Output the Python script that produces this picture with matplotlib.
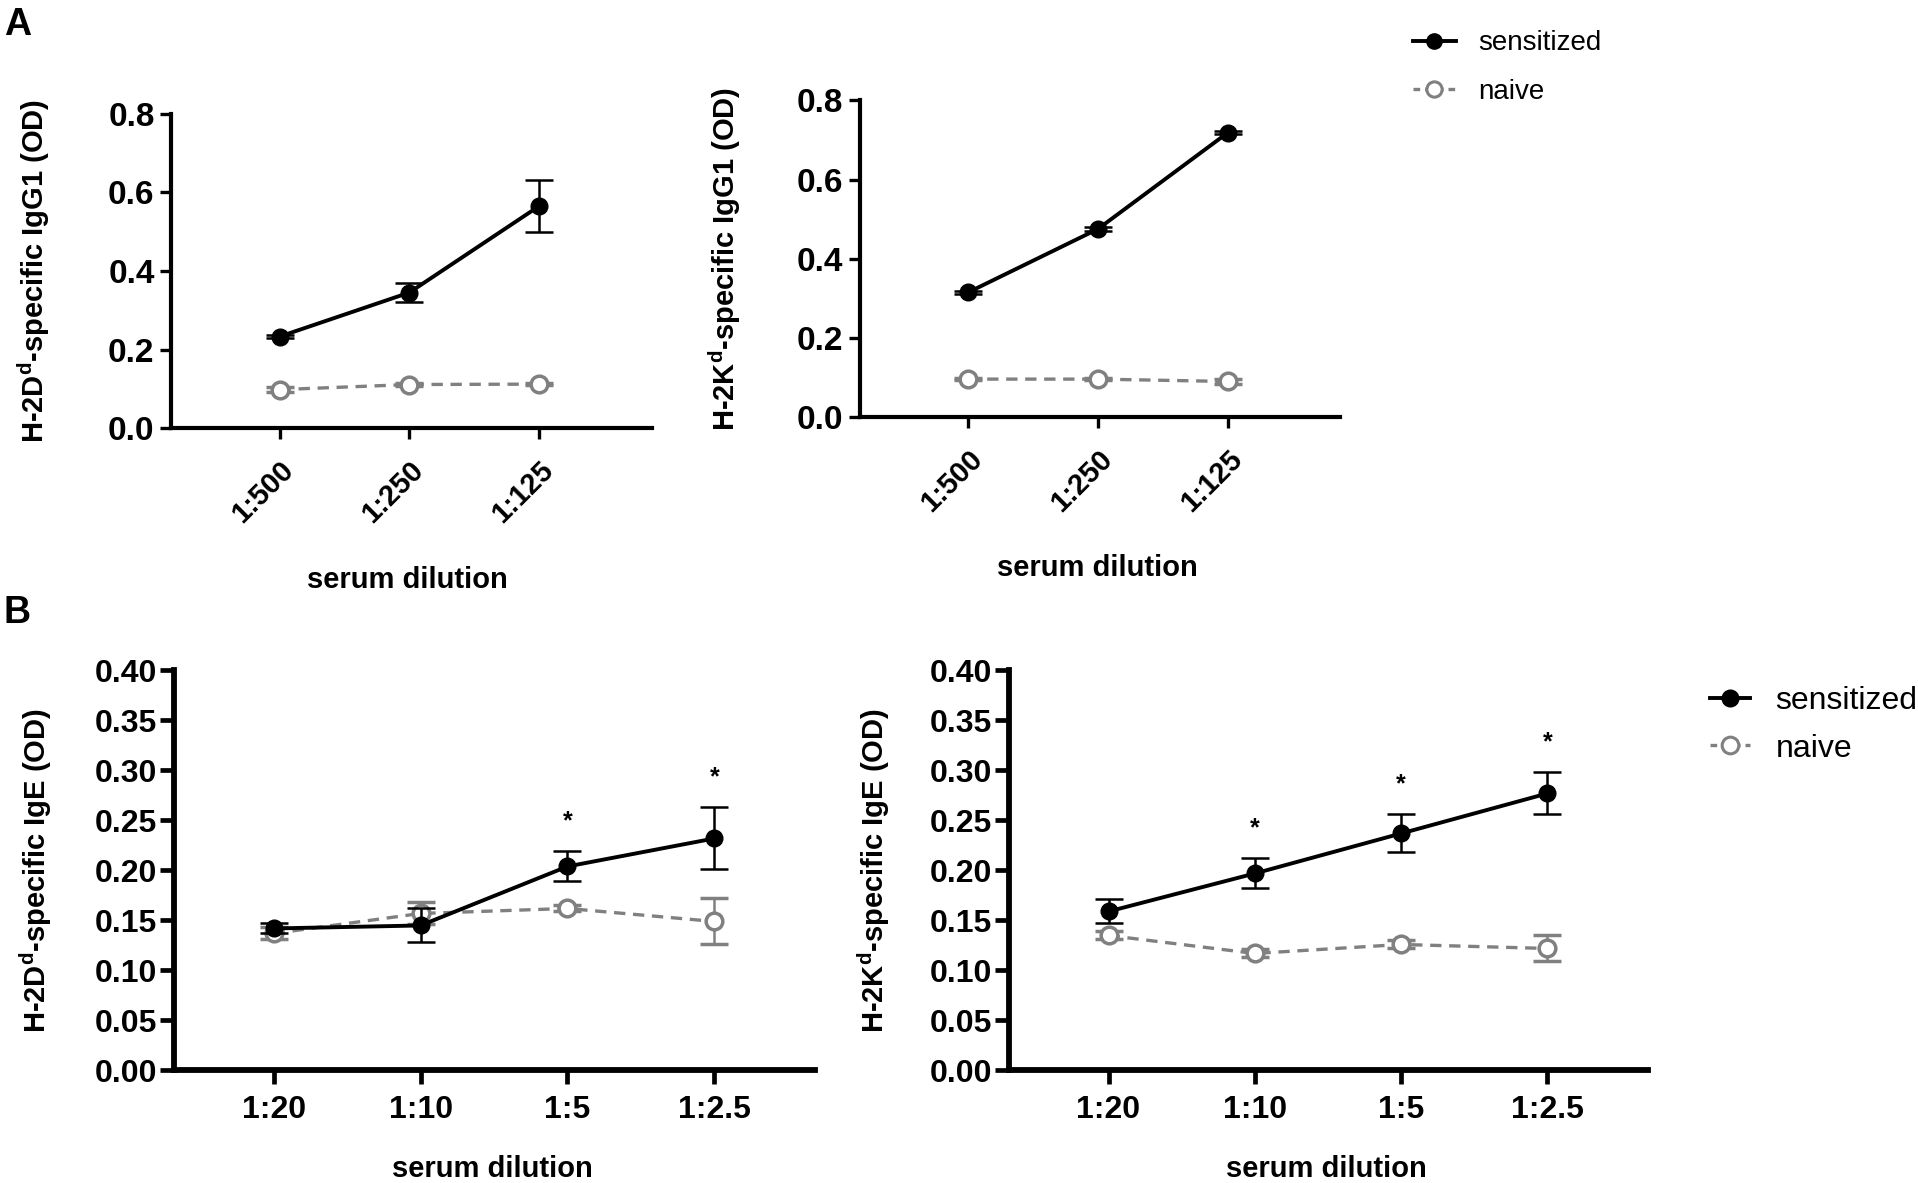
import numpy as np
import matplotlib.pyplot as plt
from matplotlib.lines import Line2D

plt.rcParams['font.family'] = ['Liberation Sans', 'DejaVu Sans']
plt.rcParams['mathtext.fontset'] = 'custom'
plt.rcParams['mathtext.bf'] = 'Liberation Sans:bold'
plt.rcParams['mathtext.rm'] = 'Liberation Sans:bold'

# panel A: IgG1
dil_A = ['1:500', '1:250', '1:125']
igg1_d_sens = [0.233, 0.345, 0.565]
igg1_d_sens_err = [0.004, 0.025, 0.067]
igg1_d_naive = [0.098, 0.111, 0.112]
igg1_d_naive_err = [0.006, 0.005, 0.003]
igg1_k_sens = [0.315, 0.475, 0.718]
igg1_k_sens_err = [0.004, 0.005, 0.004]
igg1_k_naive = [0.096, 0.096, 0.090]
igg1_k_naive_err = [0.003, 0.003, 0.006]

# panel B: IgE
dil_B = ['1:20', '1:10', '1:5', '1:2.5']
ige_d_sens = [0.142, 0.145, 0.204, 0.232]
ige_d_sens_err = [0.005, 0.017, 0.015, 0.031]
ige_d_naive = [0.137, 0.157, 0.162, 0.149]
ige_d_naive_err = [0.006, 0.011, 0.003, 0.023]
ige_d_sig = [False, False, True, True]
ige_k_sens = [0.159, 0.197, 0.237, 0.277]
ige_k_sens_err = [0.012, 0.015, 0.019, 0.021]
ige_k_naive = [0.135, 0.117, 0.126, 0.122]
ige_k_naive_err = [0.004, 0.004, 0.004, 0.013]
ige_k_sig = [False, True, True, True]

GREY = '#808080'


def draw_panel(ax, labels, sens, sens_err, naive, naive_err, ylabel, big):
    x = np.arange(len(labels))
    ms = 12
    cap = 10
    ax.errorbar(x, naive, yerr=naive_err, color=GREY, lw=2.4, dashes=(3.4, 2.3),
                marker='o', ms=ms, mfc='white', mec=GREY, mew=2.5,
                ecolor=GREY, elinewidth=1.8, capsize=cap, capthick=1.8, zorder=2)
    ax.errorbar(x, sens, yerr=sens_err, color='black', lw=2.8,
                marker='o', ms=ms, mfc='black', mec='black',
                ecolor='black', elinewidth=1.8, capsize=cap, capthick=1.8, zorder=3)
    for side in ['top', 'right']:
        ax.spines[side].set_visible(False)
    sw = 4.2 if big else 3.0
    for side in ['left', 'bottom']:
        ax.spines[side].set_linewidth(sw)
    ax.set_xticks(x)
    ax.set_ylabel(ylabel, fontsize=21, fontweight='bold')
    ax.set_xlabel('serum dilution', fontsize=21, fontweight='bold')
    return x


fig = plt.figure(figsize=(19.18, 11.83), dpi=100)

# ---- A ----
axA1 = fig.add_axes([0.0893, 0.6381, 0.2506, 0.2657])
axA2 = fig.add_axes([0.4483, 0.6474, 0.2506, 0.2678])
for ax, s, se, n, ne, lab in [
        (axA1, igg1_d_sens, igg1_d_sens_err, igg1_d_naive, igg1_d_naive_err,
         r'H-2D$^{\mathbf{d}}$-specific IgG1 (OD)'),
        (axA2, igg1_k_sens, igg1_k_sens_err, igg1_k_naive, igg1_k_naive_err,
         r'H-2K$^{\mathbf{d}}$-specific IgG1 (OD)')]:
    draw_panel(ax, dil_A, s, se, n, ne, lab, False)
    ax.set_xlim(-0.835, 2.87)
    ax.set_ylim(0, 0.8)
    ax.set_yticks([0.0, 0.2, 0.4, 0.6, 0.8])
    ax.set_yticklabels(['0.0', '0.2', '0.4', '0.6', '0.8'], fontsize=24,
                       fontweight='bold')
    ax.set_xticklabels(dil_A, fontsize=21, fontweight='bold', rotation=45,
                       ha='right', rotation_mode='anchor')
    ax.tick_params(axis='both', length=8, width=2.4, pad=4)
    ax.tick_params(axis='x', pad=12)
    ax.yaxis.set_label_coords(-0.249 if ax is axA1 else -0.244, 0.5)
axA1.xaxis.set_label_coords(0.491, -0.44)
axA2.xaxis.set_label_coords(0.494, -0.432)

# ---- B ----
axB1 = fig.add_axes([0.0906, 0.0951, 0.3345, 0.3382])
axB2 = fig.add_axes([0.5261, 0.0951, 0.3331, 0.3382])
for ax, s, se, n, ne, sig, lab in [
        (axB1, ige_d_sens, ige_d_sens_err, ige_d_naive, ige_d_naive_err, ige_d_sig,
         r'H-2D$^{\mathbf{d}}$-specific IgE (OD)'),
        (axB2, ige_k_sens, ige_k_sens_err, ige_k_naive, ige_k_naive_err, ige_k_sig,
         r'H-2K$^{\mathbf{d}}$-specific IgE (OD)')]:
    x = draw_panel(ax, dil_B, s, se, n, ne, lab, True)
    ax.set_xlim(-0.68, 3.687)
    ax.set_ylim(0, 0.4)
    yt = np.arange(0, 0.41, 0.05)
    ax.set_yticks(yt)
    ax.set_yticklabels(['%.2f' % v for v in yt], fontsize=23, fontweight='bold')
    ax.set_xticklabels(dil_B, fontsize=23, fontweight='bold')
    ax.tick_params(axis='both', length=10, width=3.4, pad=2)
    ax.tick_params(axis='x', pad=8)
    for xi, v, e, flag in zip(x, s, se, sig):
        if flag:
            ax.text(xi, v + e + 0.03, '*', ha='center', va='center',
                    fontsize=18, fontweight='bold')
    ax.xaxis.set_label_coords(0.497, -0.21)
axB1.yaxis.set_label_coords(-0.187, 0.5)
axB2.yaxis.set_label_coords(-0.184, 0.5)


def legend_handles(ms):
    return [Line2D([], [], color='black', lw=2.8, marker='o', ms=ms, mfc='black'),
            Line2D([], [], color=GREY, lw=2.4, dashes=(2, 1.5), marker='o', ms=ms,
                   mfc='white', mec=GREY, mew=2.2)]


fig.legend(legend_handles(11), ['sensitized', 'naive'], loc='center left',
           bbox_to_anchor=(0.7366, 0.943), frameon=False, fontsize=20,
           handlelength=1.55, handletextpad=0.8, labelspacing=0.8,
           borderpad=0, borderaxespad=0)
fig.legend(legend_handles(12), ['sensitized', 'naive'], loc='center left',
           bbox_to_anchor=(0.8916, 0.3873), frameon=False, fontsize=23,
           handlelength=1.25, handletextpad=0.8, labelspacing=0.55,
           borderpad=0, borderaxespad=0)

fig.text(0.002, 0.994, 'A', fontsize=27, fontweight='bold', va='top', ha='left')
fig.text(0.002, 0.497, 'B', fontsize=27, fontweight='bold', va='top', ha='left')

fig.savefig('out.png', dpi=100)
